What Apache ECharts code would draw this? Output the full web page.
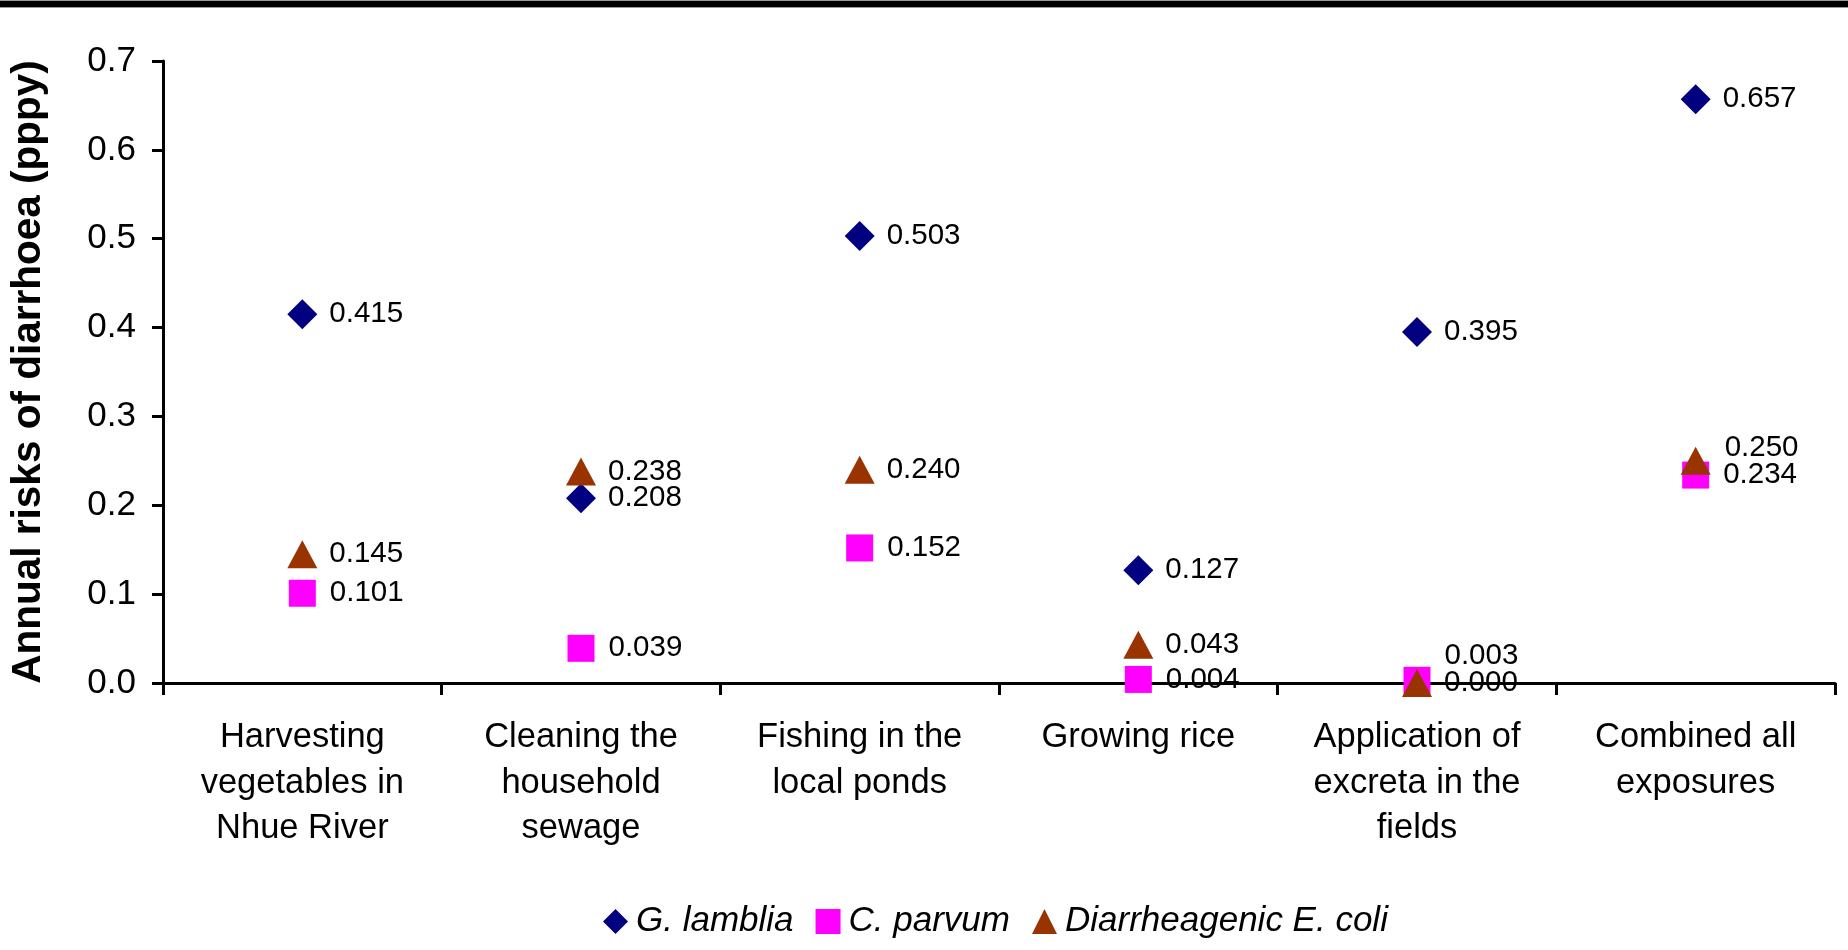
<!DOCTYPE html>
<html>
<head>
<meta charset="utf-8">
<script src="https://cdn.jsdelivr.net/npm/echarts@6/dist/echarts.min.js"></script>
<style>
  html, body { margin: 0; padding: 0; background: #fff; }
  #main { width: 1848px; height: 950px; }
</style>
</head>
<body>
<div id="main"></div>
<script>
// exposures on the x axis
var categories = [
  'Harvesting\nvegetables in\nNhue River',
  'Cleaning the\nhousehold\nsewage',
  'Fishing in the\nlocal ponds',
  'Growing rice',
  'Application of\nexcreta in the\nfields',
  'Combined all\nexposures'
];
var yTicks = [0, 0.1, 0.2, 0.3, 0.4, 0.5, 0.6, 0.7];

// annual risk (pppy) per pathogen
var gLamblia = [0.415, 0.208, 0.503, 0.127, 0.395, 0.657];
var cParvum = [0.101, 0.039, 0.152, 0.004, 0.003, 0.234];
var eColi = [0.145, 0.238, 0.240, 0.043, 0.000, 0.250];

var seriesNames = ['G. lamblia', 'C. parvum', 'Diarrheagenic E. coli'];

// labels that were nudged by hand in the original (category index -> [dx, dy])
var labelNudge = {
  'C. parvum': { 4: [0, -24] },
  'Diarrheagenic E. coli': { 5: [2, -13] }
};

var FONT = '"Liberation Sans", Arial, sans-serif';

function makeSeries(name, values, symbol, size, color, dist) {
  var nudge = labelNudge[name] || {};
  return {
    name: name,
    type: 'scatter',
    symbol: symbol,
    symbolSize: size,
    itemStyle: { color: color, opacity: 1 },
    label: {
      show: true,
      position: 'right',
      distance: dist,
      color: '#000',
      fontFamily: FONT,
      fontSize: 29.5,
      formatter: function (p) { return p.value.toFixed(3); }
    },
    data: values.map(function (v, i) {
      var item = { value: v };
      if (nudge[i]) item.label = { offset: nudge[i] };
      return item;
    })
  };
}

var chart = echarts.init(document.getElementById('main'));
chart.setOption({
  animation: false,
  backgroundColor: '#fff',
  grid: { left: 154, right: 13, top: 61, bottom: 267, containLabel: false },
  graphic: [
    { type: 'rect', shape: { x: 0, y: 0, width: 1848, height: 8 }, style: { fill: '#9a9a9a' } },
    { type: 'rect', shape: { x: 0, y: 1, width: 1848, height: 6 }, style: { fill: '#000' } }
  ],
  legend: {
    left: 598,
    top: 899,
    itemWidth: 25,
    itemHeight: 25,
    itemGap: 22,
    data: seriesNames,
    textStyle: {
      fontFamily: FONT,
      fontStyle: 'italic',
      fontSize: 35,
      color: '#000',
      padding: [0, 0, 0, 3]
    }
  },
  xAxis: {
    type: 'category',
    data: categories,
    boundaryGap: true,
    axisLine: { lineStyle: { color: '#000', width: 3 } },
    axisTick: { show: true, length: 12, lineStyle: { color: '#000', width: 3 } },
    axisLabel: {
      color: '#000',
      fontFamily: FONT,
      fontSize: 34.5,
      lineHeight: 45.5,
      margin: 32,
      interval: 0
    },
    splitLine: { show: false }
  },
  yAxis: {
    type: 'value',
    min: yTicks[0],
    max: yTicks[yTicks.length - 1],
    interval: 0.1,
    name: 'Annual risks of diarrhoea (pppy)',
    nameLocation: 'middle',
    nameGap: 114,
    nameTextStyle: {
      color: '#000',
      fontFamily: FONT,
      fontWeight: 'bold',
      fontSize: 40.5
    },
    axisLine: { show: true, lineStyle: { color: '#000', width: 3 } },
    axisTick: { show: true, length: 11, lineStyle: { color: '#000', width: 3 } },
    axisLabel: {
      color: '#000',
      fontFamily: FONT,
      fontSize: 35,
      margin: 27,
      formatter: function (v) { return v.toFixed(1); }
    },
    splitLine: { show: false }
  },
  series: [
    makeSeries(seriesNames[0], gLamblia, 'diamond', [30, 30], '#000080', 12),
    makeSeries(seriesNames[1], cParvum, 'rect', [27, 27], '#ff00ff', 14),
    makeSeries(seriesNames[2], eColi, 'triangle', [30, 28], '#993300', 12)
  ]
});
</script>
</body>
</html>
